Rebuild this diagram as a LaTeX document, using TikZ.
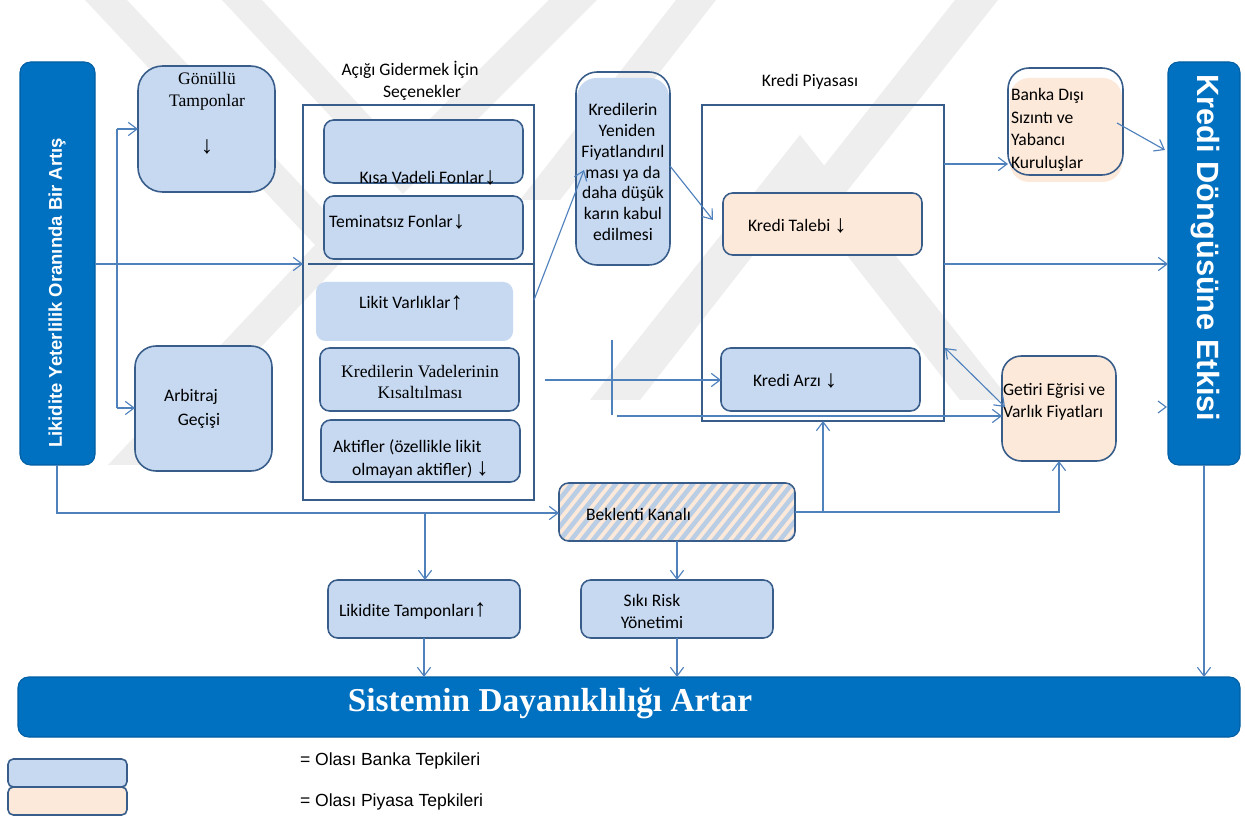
\documentclass[tikz,border=0pt]{standalone}
\usepackage{fontspec}
\setmainfont{Carlito}
\newfontfamily\tnr{Liberation Serif}
\newfontfamily\ars{Liberation Sans}
\newfontfamily\arw{Liberation Sans}
\usetikzlibrary{arrows.meta}
\definecolor{barblue}{HTML}{0070C0}
\definecolor{lblue}{HTML}{C6D9F1}
\definecolor{peach}{HTML}{FDE9D9}
\definecolor{bord}{HTML}{385D8A}
\definecolor{wcol}{HTML}{4F81BD}
\definecolor{wm}{HTML}{EEEEEE}
\definecolor{hatchb}{HTML}{B9CDE5}
\newcommand\darr{{\arw\fontsize{14}{10}\selectfont\raisebox{-0.5pt}{↓}}}
\newcommand\uarr{{\arw\fontsize{14}{10}\selectfont\raisebox{-0.5pt}{↑}}}
\newcommand\bx[6]{\node[#6, minimum width={(#4-#2)*0.02cm}, minimum height={(#5-#3)*0.02cm}] (#1) at ({(#2+#4)/2},{(#3+#5)/2}) {};}
\tikzset{
  conn/.style={draw=wcol, line width=0.65pt, -{Straight Barb[length=5pt,width=7.5pt]}},
  connboth/.style={draw=wcol, line width=0.65pt, {Straight Barb[length=5pt,width=7.5pt]}-{Straight Barb[length=5pt,width=7.5pt]}},
  wire/.style={draw=wcol, line width=0.65pt},
  bbox/.style={draw=bord, line width=0.9pt, fill=lblue, rounded corners=5.5pt, inner sep=0pt, outer sep=0pt},
  pbox/.style={bbox, fill=peach},
  obox/.style={draw=bord, line width=0.9pt, rounded corners=5.5pt, inner sep=0pt, outer sep=0pt},
  fbox/.style={fill=lblue, rounded corners=5.5pt, inner sep=0pt, outer sep=0pt},
  cont/.style={draw=bord, line width=1.4pt, inner sep=0pt, outer sep=0pt},
  bar/.style={fill=barblue, draw=barblue!85!black, line width=0.6pt, rounded corners=6pt, inner sep=0pt, outer sep=0pt},
  tx/.style={inner sep=0pt, outer sep=0pt, font=\fontsize{10}{12}\selectfont, align=center},
  txs/.style={tx, font=\tnr\fontsize{10}{12.5}\selectfont},
}
\begin{document}
\begin{tikzpicture}[x=0.02cm, y=-0.02cm]
\useasboundingbox[fill=white] (0,0) rectangle (1245,817);
% watermark
\fill[wm] (85,0) -- (127,0) -- (357,245) -- (150,465) -- (108,465) -- (315,245) -- cycle;
\fill[wm] (222,0) -- (262,0) -- (400,149) -- (549,0) -- (597,0) -- (403,194) -- cycle;
\fill[wm] (800,135) -- (1010,400) -- (960,400) -- (800,195) -- (640,400) -- (590,400) -- cycle;
\fill[wm] (955,0) -- (998,0) -- (840,200) -- (797,200) -- cycle;
\fill[wm] (676,0) -- (716,0) -- (560,200) -- (520,200) -- cycle;

% bars
\bx{lbar}{20}{62}{95}{465}{bar}
\bx{rbar}{1168}{62}{1240}{465}{bar}
\bx{bbar}{18}{677}{1240}{737}{bar}
\node[tx, rotate=90, text=white, font=\ars\bfseries\fontsize{10.5}{12}\selectfont] (lbarT) at (57,293) {Likidite Yeterlilik Oranında Bir Artış};
\node[tx, rotate=-90, text=white, font=\ars\bfseries\fontsize{17.5}{20}\selectfont] (rbarT) at (1205,248) {Kredi Döngüsüne Etkisi};
\node[tx, text=white, font=\tnr\bfseries\fontsize{19}{22}\selectfont] (bbarT) at (550,703) {Sistemin Dayanıklılığı Artar};

% left boxes
\bx{gon}{138}{66}{275}{192}{bbox, rounded corners=14pt}
\node[txs] (gonT) at (207,91) {Gönüllü\\Tamponlar};
\node[tx, font=\tnr\fontsize{14}{14}\selectfont] (gonA) at (207,147) {↓};
\bx{arb}{135}{346}{272}{471}{bbox, rounded corners=12pt}
\node[tx] (arbT1) at (191,397) {Arbitraj};
\node[tx] (arbT2) at (199,421) {Geçişi};

% options container
\node[tx] (acT1) at (410,70) {Açığı Gidermek İçin};
\node[tx] (acT2) at (422,93) {Seçenekler};
\bx{acik}{303}{105}{534}{500}{cont}
\draw[bord, line width=1.4pt] (308,264) -- (acik.east |- 0,264);
\bx{kisa}{324}{120}{523}{183}{bbox}
\node[tx, anchor=base] (kisaT) at (428,184) {Kısa Vadeli Fonlar\darr};
\bx{temi}{324}{196}{523}{259}{bbox}
\node[tx, anchor=west] (temiT) at (329,222) {Teminatsız Fonlar\darr};
\bx{likit}{316}{282}{513}{341}{fbox}
\node[tx] (likitT) at (411,303) {Likit Varlıklar\uarr};
\bx{kvad}{320}{348}{519}{411}{bbox}
\node[txs] (kvadT) at (420,382) {Kredilerin Vadelerinin\\Kısaltılması};
\bx{akt}{321}{420}{520}{482}{bbox}
\node[tx, anchor=west] (aktT1) at (333,447) {Aktifler (özellikle likit};
\node[tx, anchor=west] (aktT2) at (352,470) {olmayan aktifler) \darr};

% repricing box
\fill[lblue, rounded corners=11pt] (577,78) rectangle (669,265);
\bx{yen}{576}{72}{670}{265}{obox, rounded corners=12pt}
\node[tx, font=\fontsize{10}{11.9}\selectfont] (yenT) at (623,172) {Kredilerin\\\ \ Yeniden\\Fiyatlandırıl\\ması ya da\\daha düşük\\karın kabul\\edilmesi};

% credit market
\node[tx] (kpT) at (810,82) {Kredi Piyasası};
\bx{kpiy}{702}{105}{944}{421}{cont}
\bx{talep}{723}{193}{922}{255}{pbox}
\node[tx, anchor=west] (talepT) at (748,226) {Kredi Talebi \darr};
\bx{arz}{721}{348}{920}{411}{bbox}
\node[tx, anchor=west] (arzT) at (753,381) {Kredi Arzı \darr};

% right boxes
\fill[peach, rounded corners=11pt] (1010,78) rectangle (1122,182);
\bx{banka}{1008}{68}{1123}{175}{obox, rounded corners=12pt}
\node[tx, anchor=north west, align=left, font=\fontsize{10}{13}\selectfont] (bankaT) at (1011,88) {Banka Dışı\\Sızıntı ve\\Yabancı\\Kuruluşlar};
\bx{getiri}{1002}{356}{1116}{461}{pbox, rounded corners=11pt}
\node[tx, anchor=west, align=left, font=\fontsize{10}{12.5}\selectfont] (getiriT) at (1003,402) {Getiri Eğrisi ve\\Varlık Fiyatları};

% expectations channel (hatched)
\begin{scope}
\clip[rounded corners=5.5pt] (559,483) rectangle (795,541);
\fill[peach] (559,483) rectangle (795,541);
\foreach \i in {0,...,32} {\draw[hatchb, line width=2.6pt] ({500+\i*11},560) -- ({580+\i*11},460);}
\end{scope}
\bx{bek}{559}{483}{795}{541}{obox}
\node[tx, anchor=west] (bekT) at (586,514) {Beklenti Kanalı};

% bottom boxes
\bx{ltamp}{328}{580}{520}{638}{bbox}
\node[tx, anchor=west] (ltampT) at (339,611) {Likidite Tamponları\uarr};
\bx{sriks}{581}{580}{773}{638}{bbox}
\node[tx, font=\fontsize{10}{12.5}\selectfont] (sriksT) at (652,611) {Sıkı Risk\\Yönetimi};

% legend
\bx{leg1}{8}{759}{127}{787}{bbox, rounded corners=3pt}
\bx{leg2}{8}{787}{127}{815}{pbox, rounded corners=3pt}
\node[tx, anchor=west, font=\ars\fontsize{10}{12}\selectfont] (leg1T) at (300,761) {= Olası Banka Tepkileri};
\node[tx, anchor=west, font=\ars\fontsize{10}{12}\selectfont] (leg2T) at (300,802) {= Olası Piyasa Tepkileri};

% connectors
\coordinate (sepL) at (303,264);
\draw[conn] (lbar.east |- sepL) -- (sepL);
\coordinate (vtop) at (117,129);
\coordinate (vbot) at (117,408);
\draw[wire] (vtop) -- (vbot);
\draw[conn] (vtop) -- (gon.west |- vtop);
\draw[conn] (vbot) -- (arb.west |- vbot);
\coordinate (lb) at (57,513);
\draw[conn] (lbar.south -| lb) -- (lb) -- (bek.west |- lb);
\coordinate (ld) at (425,513);
\draw[conn] (ld) -- (ld |- ltamp.north);
\draw[conn] (bek.south) -- (sriks.north);
\draw[conn] (ltamp.south) -- (ltamp.south |- bbar.north);
\draw[conn] (sriks.south) -- (sriks.south |- bbar.north);
\draw[conn] (rbar.south) -- (rbar.south |- bbar.north);
\draw[conn] (bek.east) -- (getiri.south |- bek.east) -- (getiri.south);
\draw[conn] (kpiy.south |- bek.east) -- (kpiy.south);
\coordinate (kA) at (534,300);
\coordinate (kB) at (584,170);
\draw[conn] (kA) -- (kB);
\coordinate (yR) at (670,166);
\coordinate (tL) at (713,220);
\draw[conn] (yR) -- (tL);
\coordinate (mS) at (545,380);
\draw[conn] (mS) -- (arz.west |- mS);
\coordinate (nT) at (612,340);
\coordinate (nB) at (612,415);
\draw[wire] (nT) -- (nB);
\coordinate (nS) at (617,416);
\draw[conn] (nS) -- (getiri.west |- nS);
\coordinate (oS) at (944,164);
\draw[conn] (oS) -- (banka.west |- oS);
\coordinate (pS) at (1117,123);
\coordinate (pE) at (1165,150);
\draw[conn] (pS) -- (pE);
\coordinate (sepR) at (944,264);
\draw[conn] (sepR) -- (rbar.west |- sepR);
\coordinate (rA) at (945,348);
\coordinate (rB) at (1005,407);
\draw[connboth] (rA) -- (rB);
\coordinate (hA) at (1158,401);
\coordinate (hB) at (1166,407);
\coordinate (hC) at (1158,413);
\draw[wire] (hA) -- (hB) -- (hC);
\end{tikzpicture}
\end{document}
